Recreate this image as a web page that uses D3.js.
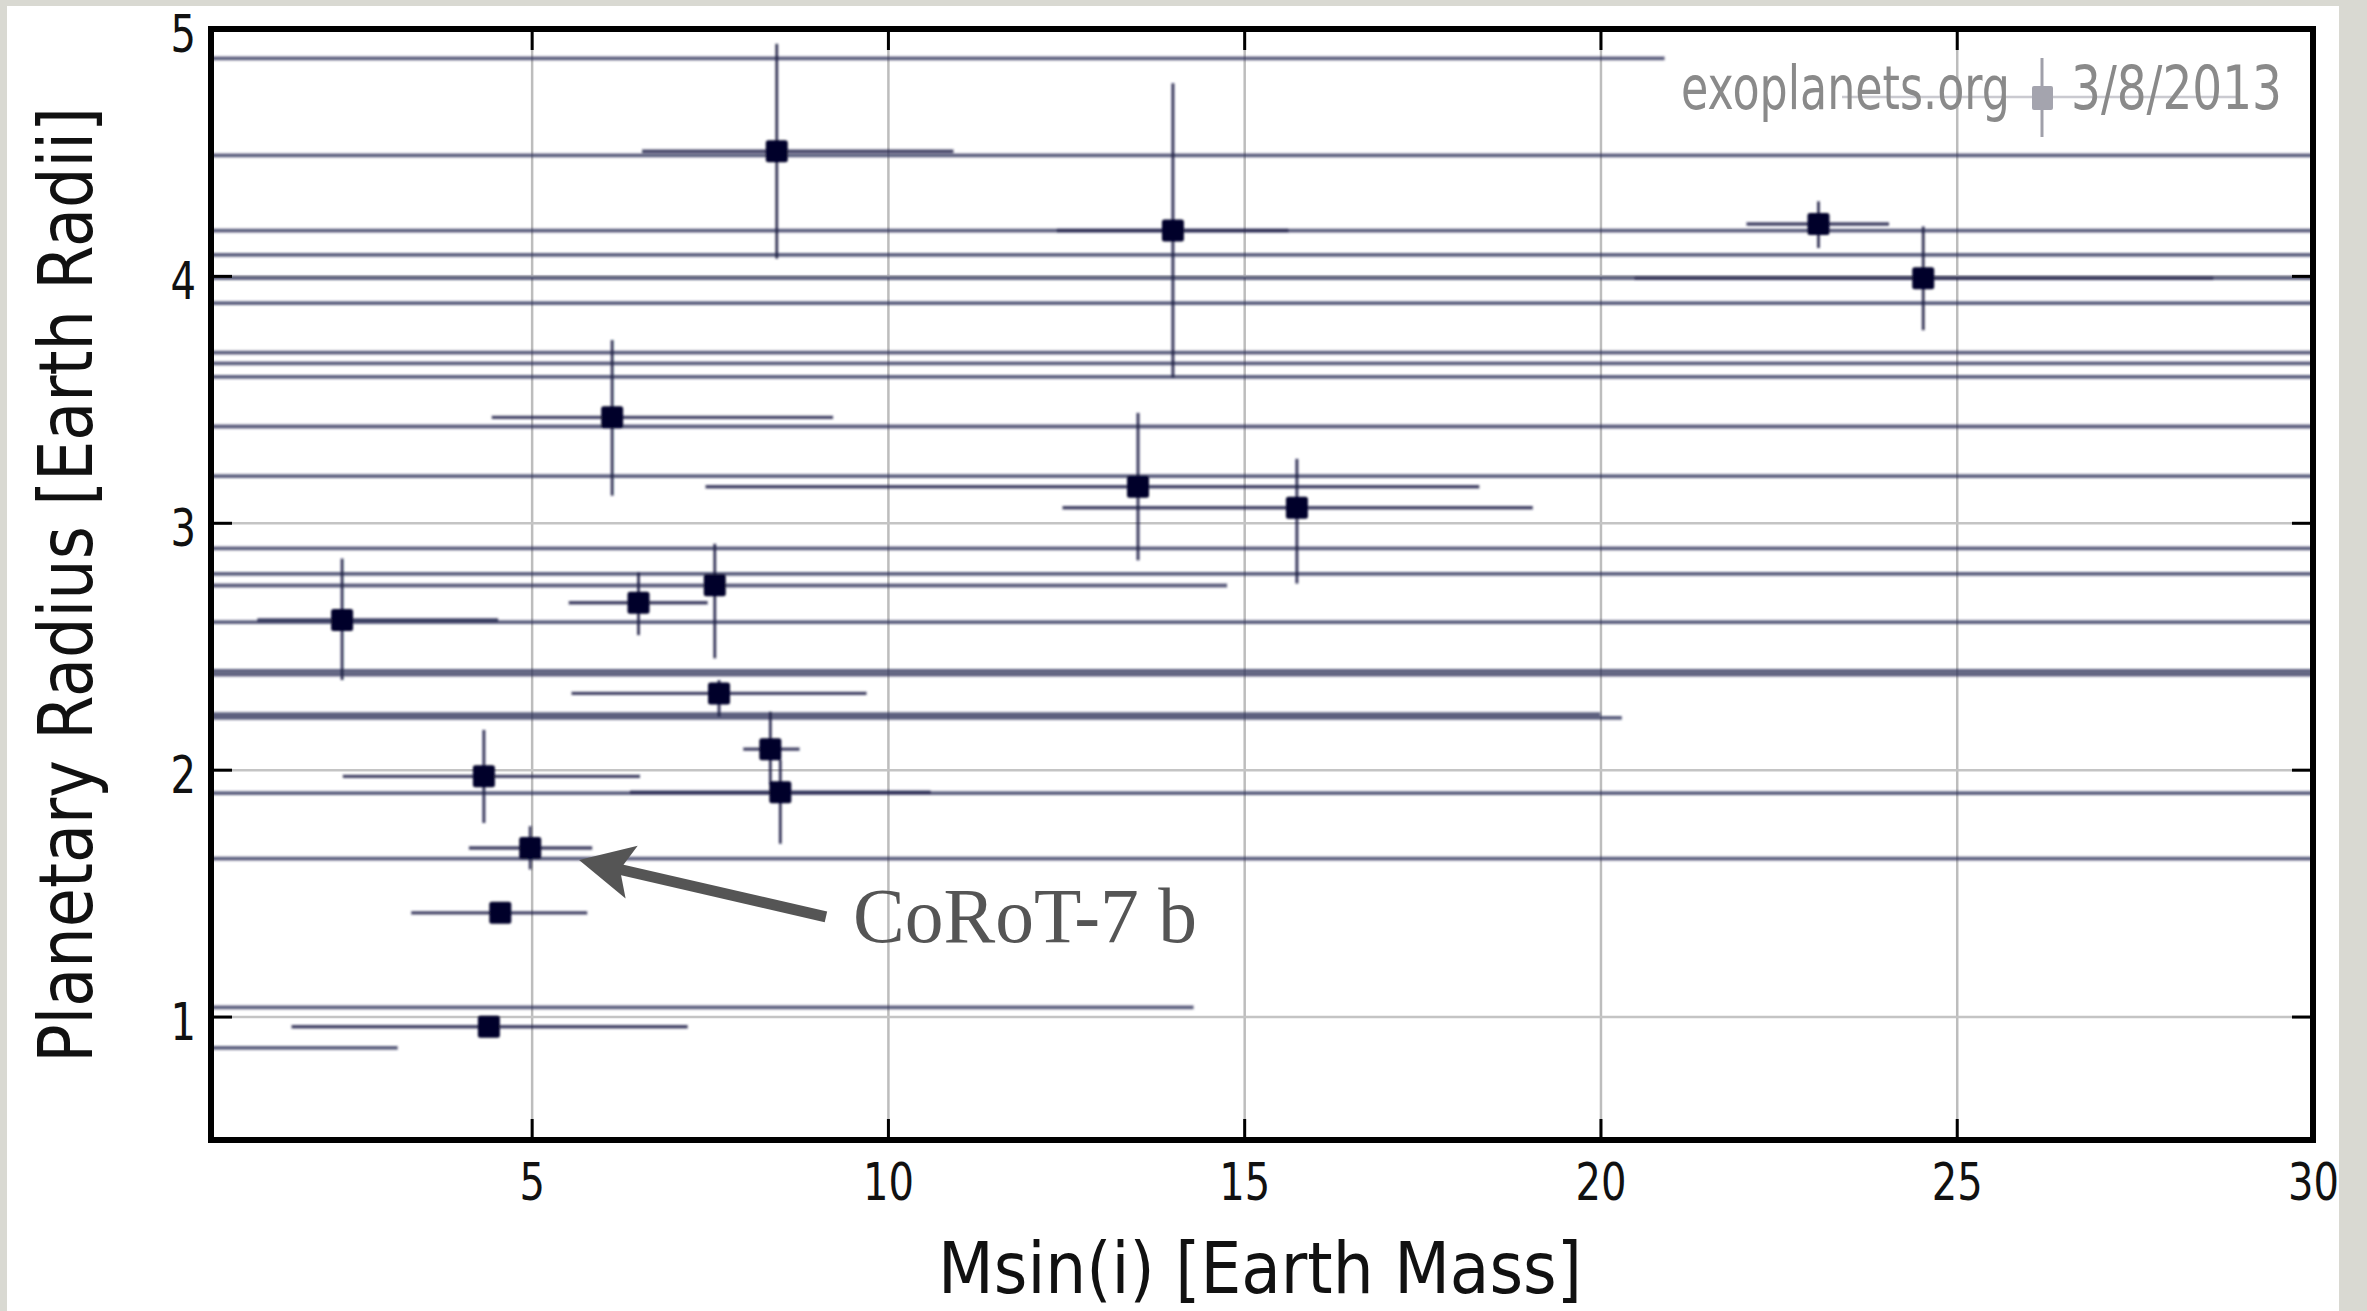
<!DOCTYPE html>
<html>
<head>
<meta charset="utf-8">
<script src="https://cdn.jsdelivr.net/npm/d3@7"></script>
<style>
  html, body { margin: 0; padding: 0; background: #d9d9d2; }
  svg { display: block; }
</style>
</head>
<body>
<svg id="chart" width="2367" height="1311"></svg>
<script>
// Planets with a measured mass and radius: Msin(i) and radius with their error ranges
const planetMass     = [8.44, 14.00, 23.06, 24.53, 6.13, 13.51, 15.74, 2.34, 6.50, 7.57, 7.63, 8.35, 8.49, 4.33, 4.98, 4.56, 4.40];
const planetMassLo   = [6.55, 12.37, 22.05, 20.48, 4.44,  7.44, 12.45, 1.15, 5.52, 7.57, 5.56, 7.97, 6.38, 2.35, 4.12, 3.31, 1.63];
const planetMassHi   = [10.92, 15.62, 24.05, 28.60, 9.23, 18.30, 19.05, 4.53, 7.47, 7.57, 9.70, 8.76, 10.60, 6.52, 5.85, 5.78, 7.19];
const planetRadius   = [4.505, 4.184, 4.21, 3.99, 3.427, 3.146, 3.061, 2.606, 2.676, 2.747, 2.309, 2.083, 1.909, 1.973, 1.683, 1.42, 0.959];
const planetRadiusLo = [4.07, 3.588, 4.113, 3.78, 3.11, 2.848, 2.754, 2.363, 2.545, 2.451, 2.215, 1.94, 1.70, 1.784, 1.596, 1.42, 0.959];
const planetRadiusHi = [4.94, 4.78, 4.302, 4.20, 3.74, 3.445, 3.259, 2.855, 2.80, 2.915, 2.363, 2.235, 2.04, 2.161, 1.771, 1.42, 0.959];

// Planets whose radius is known but whose mass range runs off the chart
const rangeRadius = [4.881, 4.488, 4.183, 4.085, 3.991, 3.890, 3.689, 3.646, 3.591, 3.390, 3.189, 2.896, 2.793, 2.746, 2.598, 2.400, 2.385, 2.225, 2.210, 1.905, 1.640, 1.037, 0.873];
const rangeMassLo = [0, 0, 0, 0, 0, 0, 0, 0, 0, 0, 0, 0, 0, 0, 0, 0, 0, 0, 0, 0, 0, 0, 0];
const rangeMassHi = [20.9, 40, 40, 40, 40, 40, 40, 40, 40, 40, 40, 40, 40, 14.76, 40, 40, 40, 20.0, 20.3, 40, 40, 14.29, 3.12];

const xTicks = [5, 10, 15, 20, 25, 30];
const yTicks = [1, 2, 3, 4, 5];
const xGrid = [5, 10, 15, 20, 25];
const yGrid = [1, 2, 3, 4];

// Callout for CoRoT-7 b: arrow tip, arrow tail, label anchor (mass, radius)
const calloutText = "CoRoT-7 b";
const calloutTip = [5.665, 1.634];
const calloutTail = [9.13, 1.404];
const calloutLabel = [9.51, 1.302];

const W = 2367, H = 1311;
const plot = { left: 211, right: 2313, top: 29, bottom: 1140 };

const x = d3.scaleLinear().domain([0.5, 30]).range([plot.left, plot.right]);
const y = d3.scaleLinear().domain([0.5, 5]).range([plot.bottom, plot.top]);

const svg = d3.select("#chart");

// draws a text squeezed horizontally to a given width (condensed lettering)
function condensedText(parent, str, width, place, attrs) {
  const t = parent.append("text").attr("x", 0).attr("y", 0).text(str);
  Object.entries(attrs).forEach(([k, v]) => t.attr(k, v));
  const natural = t.node().getComputedTextLength();
  t.attr("transform", `${place} scale(${width / natural},1)`);
  return t;
}

// white panel on the grey page
svg.append("rect").attr("x", 7).attr("y", 6).attr("width", 2332).attr("height", H - 6).attr("fill", "#ffffff");

const defs = svg.append("defs");
defs.append("clipPath").attr("id", "plotClip")
  .append("rect")
  .attr("x", plot.left).attr("y", plot.top)
  .attr("width", plot.right - plot.left).attr("height", plot.bottom - plot.top);
defs.append("filter").attr("id", "soft")
  .attr("x", "-2%").attr("y", "-2%").attr("width", "104%").attr("height", "104%")
  .append("feGaussianBlur").attr("stdDeviation", 0.8);

// gridlines
svg.append("g")
  .attr("transform", `translate(0,${plot.bottom})`)
  .call(d3.axisBottom(x).tickValues(xGrid).tickSize(-(plot.bottom - plot.top)).tickFormat(""))
  .call(g => g.select(".domain").remove())
  .selectAll("line").attr("stroke", "#bdbdbd").attr("stroke-width", 2.5);
svg.append("g")
  .attr("transform", `translate(${plot.left},0)`)
  .call(d3.axisLeft(y).tickValues(yGrid).tickSize(-(plot.right - plot.left)).tickFormat(""))
  .call(g => g.select(".domain").remove())
  .selectAll("line").attr("stroke", "#c4c4c4").attr("stroke-width", 2.5);

// watermark with its small legend symbol
const wm = svg.append("g");
wm.append("line").attr("x1", 1842).attr("x2", 2240).attr("y1", 97).attr("y2", 97)
  .attr("stroke", "#b4b4bc").attr("stroke-opacity", 0.7).attr("stroke-width", 2.5);
wm.append("line").attr("x1", 2042).attr("x2", 2042).attr("y1", 58).attr("y2", 137)
  .attr("stroke", "#a0a0aa").attr("stroke-width", 3);
wm.append("rect").attr("x", 2032).attr("y", 86).attr("width", 21).attr("height", 24).attr("rx", 2)
  .attr("fill", "#a4a4ae");
const wmStyle = { "font-family": "DejaVu Sans, sans-serif", "font-size": 61, "fill": "#8a8a8a" };
condensedText(wm, "exoplanets.org", 329, "translate(1681,109)", wmStyle);
condensedText(wm, "3/8/2013", 211, "translate(2071,109)", wmStyle);

// data layer
const dataG = svg.append("g").attr("clip-path", "url(#plotClip)")
  .append("g").attr("filter", "url(#soft)");

dataG.selectAll("line.range")
  .data(d3.range(rangeRadius.length))
  .join("line")
  .attr("class", "range")
  .attr("x1", i => x(rangeMassLo[i]))
  .attr("x2", i => x(rangeMassHi[i]))
  .attr("y1", i => y(rangeRadius[i]))
  .attr("y2", i => y(rangeRadius[i]))
  .attr("stroke", "#34375f")
  .attr("stroke-opacity", 0.8)
  .attr("stroke-width", 3.8);

const idx = d3.range(planetMass.length);

dataG.selectAll("line.xerr")
  .data(idx.filter(i => planetMassHi[i] > planetMassLo[i]))
  .join("line")
  .attr("class", "xerr")
  .attr("x1", i => x(planetMassLo[i]))
  .attr("x2", i => x(planetMassHi[i]))
  .attr("y1", i => y(planetRadius[i]))
  .attr("y2", i => y(planetRadius[i]))
  .attr("stroke", "#23254d")
  .attr("stroke-opacity", 0.85)
  .attr("stroke-width", 3.4);

dataG.selectAll("line.yerr")
  .data(idx.filter(i => planetRadiusHi[i] > planetRadiusLo[i]))
  .join("line")
  .attr("class", "yerr")
  .attr("x1", i => x(planetMass[i]))
  .attr("x2", i => x(planetMass[i]))
  .attr("y1", i => y(planetRadiusLo[i]))
  .attr("y2", i => y(planetRadiusHi[i]))
  .attr("stroke", "#1d1f45")
  .attr("stroke-opacity", 0.9)
  .attr("stroke-width", 2.8);

const mk = 22;
dataG.selectAll("rect.planet")
  .data(idx)
  .join("rect")
  .attr("class", "planet")
  .attr("x", i => x(planetMass[i]) - mk / 2)
  .attr("y", i => y(planetRadius[i]) - mk / 2)
  .attr("width", mk)
  .attr("height", mk)
  .attr("rx", 2.5)
  .attr("fill", "#05052a");

// axes with inward ticks on all four sides
const tickFont = "DejaVu Sans, sans-serif";
function styleTicks(g) {
  g.select(".domain").remove();
  g.selectAll(".tick line").attr("stroke", "#000").attr("stroke-width", 3);
}

svg.append("g")
  .attr("transform", `translate(0,${plot.bottom})`)
  .call(d3.axisBottom(x).tickValues(xTicks).tickSizeInner(-21).tickSizeOuter(0).tickPadding(24).tickFormat(d3.format("d")))
  .call(styleTicks)
  .selectAll(".tick text")
  .attr("font-family", tickFont).attr("font-size", 51).attr("fill", "#111")
  .attr("textLength", d => String(d).length * 25.5).attr("lengthAdjust", "spacingAndGlyphs");

svg.append("g")
  .attr("transform", `translate(${plot.left},0)`)
  .call(d3.axisLeft(y).tickValues(yTicks).tickSizeInner(-21).tickSizeOuter(0).tickPadding(15).tickFormat(d3.format("d")))
  .call(styleTicks)
  .selectAll(".tick text")
  .attr("font-family", tickFont).attr("font-size", 51).attr("fill", "#111").attr("dy", "0.45em")
  .attr("textLength", d => String(d).length * 25.5).attr("lengthAdjust", "spacingAndGlyphs");

svg.append("g")
  .attr("transform", `translate(0,${plot.top})`)
  .call(d3.axisTop(x).tickValues(xGrid).tickSizeInner(-21).tickSizeOuter(0).tickFormat(""))
  .call(styleTicks);

svg.append("g")
  .attr("transform", `translate(${plot.right},0)`)
  .call(d3.axisRight(y).tickValues(yGrid).tickSizeInner(-21).tickSizeOuter(0).tickFormat(""))
  .call(styleTicks);

// plot frame
svg.append("rect")
  .attr("x", plot.left).attr("y", plot.top)
  .attr("width", plot.right - plot.left).attr("height", plot.bottom - plot.top)
  .attr("fill", "none").attr("stroke", "#000").attr("stroke-width", 6);

// axis titles
const titleStyle = { "font-family": tickFont, "font-size": 72, "fill": "#111", "text-anchor": "middle" };
condensedText(svg, "Msin(i) [Earth Mass]", 644, "translate(1260,1293)", titleStyle);
condensedText(svg, "Planetary Radius [Earth Radii]", 956, "translate(92,585) rotate(-90)",
  Object.assign({}, titleStyle, { "font-size": 74 }));

// CoRoT-7 b callout arrow
const tip = [x(calloutTip[0]), y(calloutTip[1])];
const tail = [x(calloutTail[0]), y(calloutTail[1])];
const dx = tail[0] - tip[0], dy = tail[1] - tip[1];
const len = Math.hypot(dx, dy);
const ux = dx / len, uy = dy / len;
const nx = -uy, ny = ux;
const headLen = 54, headHalf = 27, notch = 42;
const pt = (a, b) => [tip[0] + ux * a + nx * b, tip[1] + uy * a + ny * b];

svg.append("line")
  .attr("x1", pt(notch - 2, 0)[0]).attr("y1", pt(notch - 2, 0)[1])
  .attr("x2", tail[0]).attr("y2", tail[1])
  .attr("stroke", "#555555").attr("stroke-width", 11);
svg.append("path")
  .attr("d", d3.line()([tip, pt(headLen, headHalf), pt(notch, 0), pt(headLen, -headHalf)]) + "Z")
  .attr("fill", "#555555");

condensedText(svg, calloutText, 344,
  `translate(${x(calloutLabel[0])},${y(calloutLabel[1])})`,
  { "font-family": "Liberation Serif, DejaVu Serif, serif", "font-size": 78, "fill": "#555555" });
</script>
</body>
</html>
